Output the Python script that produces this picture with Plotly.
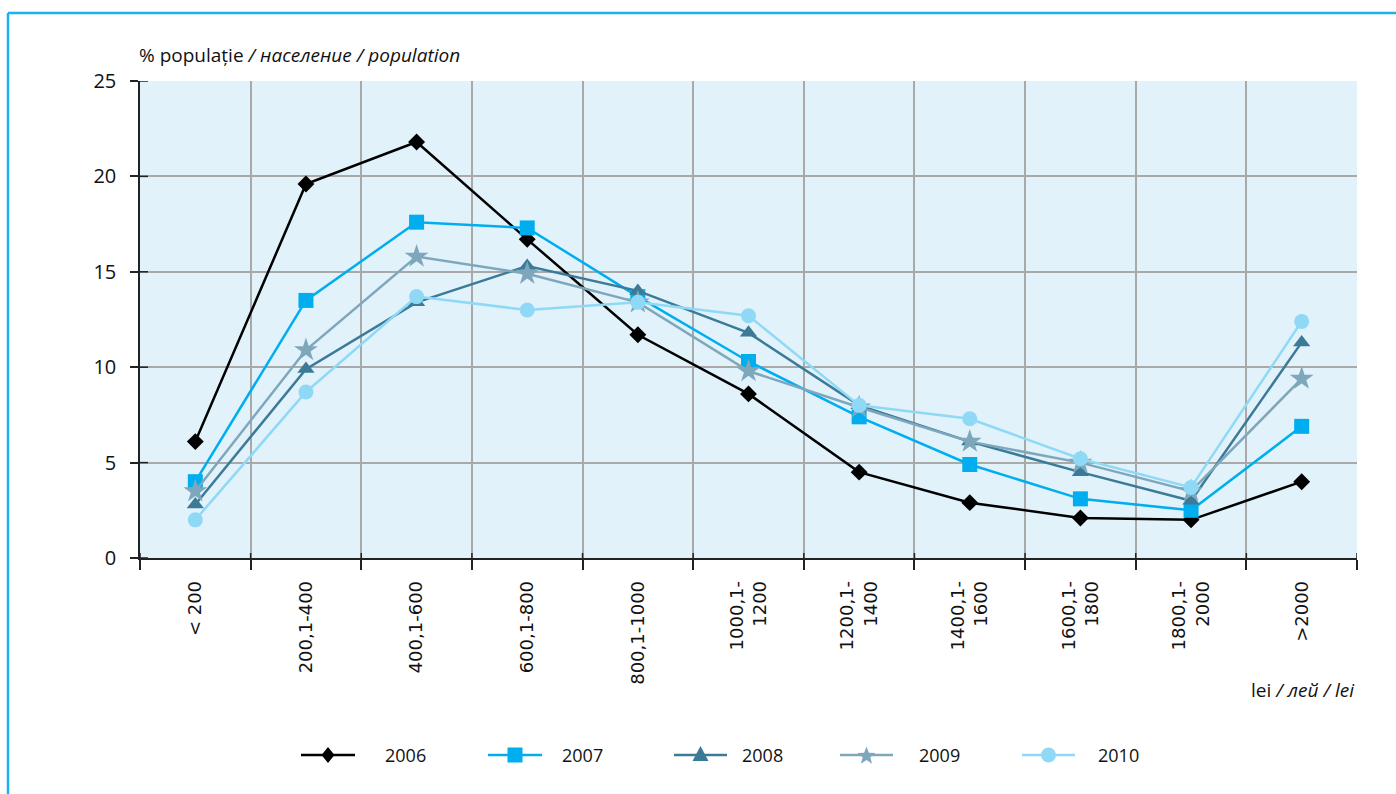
import math
import plotly.graph_objects as go

# Income brackets (lei) and share of population (%) per year
categories = ["< 200", "200,1-400", "400,1-600", "600,1-800", "800,1-1000",
              "1000,1-<br>1200", "1200,1-<br>1400", "1400,1-<br>1600",
              "1600,1-<br>1800", "1800,1-<br>2000", ">2000"]

years = ["2006", "2007", "2008", "2009", "2010"]

pop_2006 = [6.1, 19.6, 21.8, 16.7, 11.7, 8.6, 4.5, 2.9, 2.1, 2.0, 4.0]
pop_2007 = [4.0, 13.5, 17.6, 17.3, 13.7, 10.3, 7.4, 4.9, 3.1, 2.5, 6.9]
pop_2008 = [2.8, 9.9, 13.4, 15.3, 14.0, 11.8, 8.0, 6.1, 4.5, 3.0, 11.3]
pop_2009 = [3.5, 10.9, 15.8, 14.9, 13.4, 9.8, 7.9, 6.1, 5.0, 3.5, 9.4]
pop_2010 = [2.0, 8.7, 13.7, 13.0, 13.4, 12.7, 8.0, 7.3, 5.2, 3.7, 12.4]

y_ticks = [0, 5, 10, 15, 20, 25]

series = [pop_2006, pop_2007, pop_2008, pop_2009, pop_2010]
colors = ["#000000", "#00aeef", "#3b7b98", "#7fa7bc", "#8fd9f7"]
symbols = ["diamond", "square", "triangle-up", "star", "circle"]
sizes = [13, 15, 15, 18, 15]

# Figure geometry (pixels)
W, H = 1396, 794
L, R, T, B = 140, 39, 81, 236
pw, ph = W - L - R, H - T - B


def px_x(x):
    return (x - L) / pw


def px_y(y):
    return (H - B - y) / ph


def poly_path(points):
    """SVG path in paper units from a list of pixel points."""
    parts = [f"{'M' if i == 0 else 'L'}{px_x(x):.5f},{px_y(y):.5f}"
             for i, (x, y) in enumerate(points)]
    return " ".join(parts) + " Z"


def legend_symbol(fig, sym, cx, cy, color):
    if sym == "circle":
        r = 7.5
        fig.add_shape(type="circle", xref="paper", yref="paper",
                      x0=px_x(cx - r), x1=px_x(cx + r),
                      y0=px_y(cy + r), y1=px_y(cy - r),
                      fillcolor=color, line=dict(width=0))
        return
    if sym == "diamond":
        pts = [(cx, cy - 8), (cx + 6.5, cy), (cx, cy + 8), (cx - 6.5, cy)]
    elif sym == "square":
        h = 7.5
        pts = [(cx - h, cy - h), (cx + h, cy - h), (cx + h, cy + h), (cx - h, cy + h)]
    elif sym == "triangle-up":
        pts = [(cx, cy - 9), (cx + 8, cy + 6), (cx - 8, cy + 6)]
    else:  # star
        pts = []
        for k in range(10):
            ang = -math.pi / 2 + k * math.pi / 5
            rad = 9.5 if k % 2 == 0 else 4.0
            pts.append((cx + rad * math.cos(ang), cy + 1 + rad * math.sin(ang)))
    fig.add_shape(type="path", xref="paper", yref="paper", path=poly_path(pts),
                  fillcolor=color, line=dict(width=0))


fig = go.Figure()

for yr, vals, c, s, sz in zip(years, series, colors, symbols, sizes):
    fig.add_trace(go.Scatter(
        x=categories, y=vals, name=yr, mode="lines+markers",
        line=dict(color=c, width=2.5),
        marker=dict(symbol=s, size=sz, color=c, line=dict(width=0)),
        showlegend=False,
    ))

# Hand-built legend: line segment with centred marker, then the year
legend_line_x = [(301, 355), (488, 542), (674, 727), (840, 893), (1022, 1075)]
legend_text_x = [383, 560, 740, 917, 1096]
legend_y = 755

for (x0, x1), tx, yr, c, s in zip(legend_line_x, legend_text_x, years, colors, symbols):
    fig.add_shape(type="line", xref="paper", yref="paper",
                  x0=px_x(x0), x1=px_x(x1), y0=px_y(legend_y), y1=px_y(legend_y),
                  line=dict(color=c, width=2.5))
    legend_symbol(fig, s, (x0 + x1) / 2, legend_y, c)
    fig.add_annotation(xref="paper", yref="paper", x=px_x(tx), y=px_y(legend_y),
                       text=yr, showarrow=False, xanchor="left", yanchor="middle",
                       font=dict(family="Open Sans", size=18, color="#111111"))

# Short inner continuation of the axis ticks, so they cross the axis lines
tick_style = dict(color="#222222", width=1.5)
for v in y_ticks:
    fig.add_shape(type="line", xref="paper", yref="y", x0=0, x1=px_x(L + 8),
                  y0=v, y1=v, line=tick_style)
for k in range(len(categories) + 1):
    fig.add_shape(type="line", xref="x", yref="paper", x0=k - 0.5, x1=k - 0.5,
                  y0=0, y1=px_y(H - B - 5), line=tick_style)

# Outer frame (left and top edges visible)
frame = dict(color="#19b2ec", width=2.5)
fig.add_shape(type="line", xref="paper", yref="paper",
              x0=px_x(8), x1=px_x(8), y0=px_y(13), y1=px_y(820), line=frame)
fig.add_shape(type="line", xref="paper", yref="paper",
              x0=px_x(8), x1=px_x(1420), y0=px_y(13), y1=px_y(13), line=frame)

fig.add_annotation(xref="paper", yref="paper", x=px_x(137), y=px_y(55),
                   text="% populație <i>/ население / population</i>",
                   showarrow=False, xanchor="left", yanchor="middle",
                   font=dict(family="Open Sans", size=19, color="#111111"))
fig.add_annotation(xref="paper", yref="paper", x=1.0, y=px_y(690),
                   text="lei <i>/ лей / lei</i>",
                   showarrow=False, xanchor="right", yanchor="middle",
                   font=dict(family="Open Sans", size=19, color="#111111"))

fig.update_layout(
    width=W, height=H,
    margin=dict(l=L, r=R, t=T, b=B),
    paper_bgcolor="white",
    plot_bgcolor="#e1f2fb",
    xaxis=dict(
        type="category", range=[-0.5, 10.5], tickson="boundaries",
        showgrid=True, gridcolor="#a9a9a9", gridwidth=1.5,
        showline=True, linecolor="#222222", linewidth=1.5,
        ticks="outside", ticklen=10, tickcolor="#222222", tickwidth=1.5,
        tickangle=-90, ticklabelstandoff=14,
        tickfont=dict(family="DejaVu Sans", size=18, color="#111111"),
        zeroline=False,
    ),
    yaxis=dict(
        range=[0, 25], tickvals=y_ticks,
        showgrid=True, gridcolor="#a9a9a9", gridwidth=1.5,
        showline=True, linecolor="#222222", linewidth=1.5,
        ticks="outside", ticklen=8, tickcolor="#222222", tickwidth=1.5,
        ticklabelstandoff=10,
        tickfont=dict(family="Open Sans", size=20, color="#111111"),
        zeroline=False,
    ),
)

fig.write_html("out.html")
